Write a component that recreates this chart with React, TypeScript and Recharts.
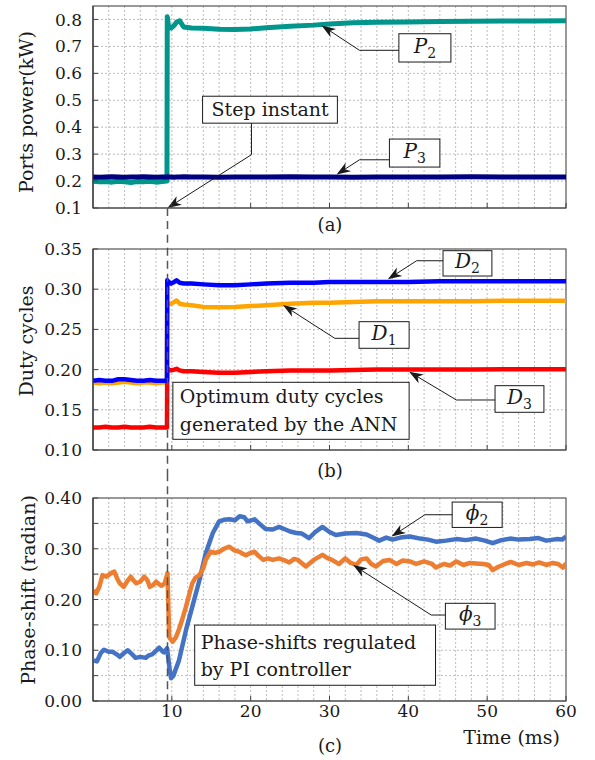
import React from "react";
import { LineChart, Line, XAxis, YAxis, CartesianGrid, ReferenceLine, ReferenceArea } from "recharts";

const FONT = "'DejaVu Serif', 'Liberation Serif', serif";
const INK = "#1a1a1a";

// shared time axis (ms)
const timeTicks = [10, 20, 30, 40, 50, 60];
const gridTimes = [2, 4, 6, 8, 10, 12, 14, 16, 18, 20, 22, 24, 26, 28, 30, 32, 34, 36, 38, 40, 42, 44, 46, 48, 50, 52, 54, 56, 58];
const stepInstant = 9.45;

// time grid used by panels (a) and (b)
const stepTimes = [0, 0.8, 1.6, 2.4, 3.2, 4, 4.8, 5.6, 6.4, 7.2, 8, 8.8, 9.38, 9.42, 9.6, 9.9, 10.3, 10.6, 11, 11.5, 12.5, 14, 16, 18, 20, 22, 25, 28, 30, 33, 36, 40, 44, 48, 52, 56, 60];

// (a) ports power, kW
const p2Power = [0.199, 0.197, 0.198, 0.196, 0.199, 0.197, 0.195, 0.198, 0.197, 0.199, 0.196, 0.198, 0.2, 0.81, 0.77, 0.768, 0.778, 0.79, 0.795, 0.772, 0.768, 0.767, 0.764, 0.763, 0.765, 0.769, 0.775, 0.779, 0.783, 0.788, 0.79, 0.791, 0.792, 0.793, 0.794, 0.794, 0.795];
const p3Power = [0.215, 0.214, 0.215, 0.216, 0.215, 0.214, 0.215, 0.215, 0.216, 0.215, 0.214, 0.215, 0.215, 0.216, 0.215, 0.215, 0.214, 0.215, 0.215, 0.216, 0.215, 0.215, 0.214, 0.215, 0.215, 0.215, 0.216, 0.215, 0.215, 0.214, 0.215, 0.215, 0.215, 0.216, 0.215, 0.215, 0.215];
const powerTicks = [0.1, 0.2, 0.3, 0.4, 0.5, 0.6, 0.7, 0.8];

// (b) duty cycles
const d1Duty = [0.184, 0.183, 0.184, 0.183, 0.184, 0.185, 0.184, 0.183, 0.184, 0.184, 0.183, 0.184, 0.184, 0.284, 0.282, 0.282, 0.284, 0.286, 0.282, 0.281, 0.28, 0.278, 0.2775, 0.278, 0.279, 0.28, 0.282, 0.283, 0.283, 0.284, 0.285, 0.285, 0.285, 0.285, 0.2855, 0.2855, 0.2855];
const d2Duty = [0.186, 0.187, 0.186, 0.186, 0.188, 0.188, 0.187, 0.186, 0.186, 0.187, 0.186, 0.186, 0.186, 0.311, 0.309, 0.307, 0.309, 0.311, 0.308, 0.307, 0.307, 0.306, 0.305, 0.305, 0.306, 0.307, 0.308, 0.308, 0.309, 0.309, 0.309, 0.309, 0.31, 0.31, 0.31, 0.31, 0.31];
const d3Duty = [0.128, 0.128, 0.129, 0.128, 0.128, 0.129, 0.128, 0.128, 0.128, 0.129, 0.128, 0.128, 0.128, 0.202, 0.2, 0.199, 0.2, 0.201, 0.199, 0.198, 0.198, 0.197, 0.196, 0.196, 0.197, 0.198, 0.199, 0.199, 0.199, 0.1995, 0.2, 0.2, 0.2, 0.2, 0.2005, 0.2005, 0.2005];
const dutyTicks = [0.1, 0.15, 0.2, 0.25, 0.3, 0.35];

// (c) phase shifts, radian
const phi2Time = [0.1, 0.5, 1.0, 1.4, 2.0, 2.5, 3.0, 3.4, 3.9, 4.4, 4.9, 5.4, 6.0, 6.7, 7.1, 7.5, 8.0, 8.4, 8.8, 9.0, 9.4, 9.7, 9.9, 10.2, 10.9, 11.8, 12.6, 13.5, 14.3, 15.2, 16.0, 16.6, 17.3, 18.0, 18.6, 19.2, 19.6, 20.5, 21.2, 21.9, 22.8, 23.6, 24.4, 25.0, 25.8, 26.5, 27.4, 28.2, 29.1, 30.0, 30.8, 32.0, 33.4, 34.7, 35.5, 36.3, 37.2, 38.0, 39.0, 40.2, 41.5, 42.5, 43.5, 44.8, 46.1, 47.3, 48.6, 49.7, 50.7, 51.8, 52.9, 54.0, 55.4, 56.5, 57.5, 58.8, 59.5, 60];
const phi2Shift = [0.08, 0.078, 0.095, 0.101, 0.097, 0.097, 0.092, 0.087, 0.094, 0.1, 0.093, 0.085, 0.087, 0.085, 0.09, 0.092, 0.099, 0.105, 0.098, 0.096, 0.104, 0.065, 0.045, 0.05, 0.08, 0.14, 0.186, 0.238, 0.291, 0.331, 0.354, 0.357, 0.358, 0.356, 0.364, 0.362, 0.354, 0.358, 0.348, 0.339, 0.338, 0.343, 0.338, 0.334, 0.331, 0.33, 0.321, 0.333, 0.343, 0.333, 0.327, 0.33, 0.331, 0.328, 0.322, 0.316, 0.322, 0.318, 0.322, 0.324, 0.32, 0.318, 0.314, 0.316, 0.319, 0.317, 0.32, 0.316, 0.311, 0.317, 0.32, 0.318, 0.319, 0.321, 0.316, 0.319, 0.318, 0.324];
const phi3Time = [0.1, 0.4, 0.8, 1.2, 1.7, 2.3, 2.7, 3.1, 3.4, 3.9, 4.3, 4.8, 5.1, 5.5, 6.0, 6.5, 6.9, 7.2, 7.6, 8.0, 8.4, 8.7, 9.1, 9.45, 9.66, 10.1, 10.5, 10.9, 11.3, 11.8, 12.2, 12.6, 13.0, 13.5, 14.0, 14.3, 14.9, 15.5, 16.0, 16.6, 17.3, 17.9, 18.6, 19.0, 19.4, 20.0, 20.5, 21.0, 21.6, 22.2, 22.8, 23.6, 24.3, 24.9, 25.5, 26.0, 27.0, 28.0, 29.1, 29.7, 30.3, 31.2, 32.0, 32.7, 33.4, 34.0, 34.7, 35.3, 35.9, 36.8, 37.6, 38.5, 39.3, 40.2, 41.0, 42.0, 43.0, 43.5, 44.5, 45.3, 46.1, 47.0, 47.8, 48.6, 49.5, 50.2, 50.7, 51.5, 52.3, 53.0, 54.0, 55.0, 55.8, 56.6, 57.5, 58.3, 59.0, 59.6, 60];
const phi3Shift = [0.219, 0.212, 0.225, 0.248, 0.245, 0.252, 0.255, 0.24, 0.232, 0.225, 0.235, 0.245, 0.238, 0.232, 0.235, 0.245, 0.238, 0.225, 0.228, 0.235, 0.23, 0.227, 0.232, 0.252, 0.126, 0.117, 0.125, 0.141, 0.16, 0.186, 0.21, 0.232, 0.243, 0.248, 0.262, 0.278, 0.294, 0.292, 0.294, 0.3, 0.304, 0.297, 0.294, 0.29, 0.287, 0.292, 0.294, 0.286, 0.278, 0.281, 0.278, 0.281, 0.277, 0.273, 0.28, 0.278, 0.265, 0.278, 0.288, 0.282, 0.278, 0.27, 0.281, 0.272, 0.268, 0.279, 0.281, 0.27, 0.265, 0.276, 0.278, 0.27, 0.277, 0.275, 0.27, 0.275, 0.27, 0.263, 0.27, 0.267, 0.275, 0.268, 0.272, 0.271, 0.27, 0.268, 0.258, 0.265, 0.27, 0.274, 0.268, 0.272, 0.269, 0.273, 0.268, 0.272, 0.27, 0.263, 0.271];
const phaseTicks = [0, 0.05, 0.1, 0.15, 0.2, 0.25, 0.3, 0.35, 0.4];

const powerData = stepTimes.map((t, i) => ({ t, p2: p2Power[i], p3: p3Power[i] }));
const dutyData = stepTimes.map((t, i) => ({ t, d1: d1Duty[i], d2: d2Duty[i], d3: d3Duty[i] }));
const phi2Data = phi2Time.map((t, i) => ({ t, v: phi2Shift[i] }));
const phi3Data = phi3Time.map((t, i) => ({ t, v: phi3Shift[i] }));

const tickStyle = { fontFamily: FONT, fontSize: 17, fill: INK };

// arrow pointing at the second point of a ReferenceLine segment
const ArrowShape = (p: any) => {
  const { x1, y1, x2, y2 } = p;
  const a = Math.atan2(y2 - y1, x2 - x1);
  const c = Math.cos(a);
  const s = Math.sin(a);
  const L = 14, H = 5, N = 10;
  const bx = x2 - L * c, by = y2 - L * s;
  const nx = x2 - N * c, ny = y2 - N * s;
  return (
    <g>
      <line x1={x1} y1={y1} x2={nx} y2={ny} stroke={INK} strokeWidth={1} />
      <polygon points={`${x2},${y2} ${bx - H * s},${by + H * c} ${nx},${ny} ${bx + H * s},${by - H * c}`} fill={INK} />
    </g>
  );
};

const Sym = ({ base, sub }: { base: string; sub: string }) => (
  <>
    <tspan fontStyle="italic">{base}</tspan>
    <tspan fontSize={14} dy={5}>{sub}</tspan>
  </>
);

const symbolBox = (base: string, sub: string) => (p: any) => (
  <g>
    <rect x={p.x} y={p.y} width={p.width} height={p.height} fill="#fff" stroke={INK} strokeWidth={1} />
    <text x={p.x + p.width / 2} y={p.y + p.height / 2 + 5} textAnchor="middle" fontFamily={FONT} fontSize={20} fill={INK}>
      <Sym base={base} sub={sub} />
    </text>
  </g>
);

const textBox = (lines: string[], pad: number, first: number, gap: number) => (p: any) => (
  <g>
    <rect x={p.x} y={p.y} width={p.width} height={p.height} fill="#fff" stroke={INK} strokeWidth={1} />
    {lines.map((l, i) => (
      <text key={l} x={p.x + pad} y={p.y + first + i * gap} fontFamily={FONT} fontSize={19} fill={INK}>{l}</text>
    ))}
  </g>
);

const frame = (p: any) => <rect x={p.x} y={p.y} width={p.width} height={p.height} fill="none" stroke="#555" strokeWidth={1.2} />;

const leader = (x1: number, y: number, x2: number) => (
  <ReferenceLine segment={[{ x: x1, y }, { x: x2, y }]} stroke={INK} strokeWidth={1} ifOverflow="visible" />
);

const arrow = (x1: number, y1: number, x2: number, y2: number) => (
  <ReferenceLine segment={[{ x: x1, y: y1 }, { x: x2, y: y2 }]} ifOverflow="visible" shape={(p: any) => <ArrowShape {...p} />} />
);

const stepLine = (lo: number, hi: number) => (
  <ReferenceLine segment={[{ x: stepInstant, y: hi }, { x: stepInstant, y: lo }]} stroke="#555" strokeWidth={1.5} strokeDasharray="8 5" ifOverflow="visible" />
);

const xAxis = (labels: boolean, height: number) => (
  <XAxis
    type="number"
    dataKey="t"
    domain={[0, 60]}
    ticks={timeTicks}
    interval={0}
    allowDataOverflow
    height={height}
    tickSize={-5}
    tickMargin={9}
    tick={tickStyle}
    tickFormatter={(v: number) => (labels ? String(v) : "")}
    axisLine={{ stroke: "#555", strokeWidth: 1.2 }}
    tickLine={{ stroke: "#444" }}
  />
);

const yAxis = (domain: number[], ticks: number[], fmt: (v: number) => string) => (
  <YAxis
    type="number"
    domain={domain}
    ticks={ticks}
    interval={0}
    allowDataOverflow
    width={93}
    tickSize={-5}
    tickMargin={16}
    tick={tickStyle}
    tickFormatter={fmt}
    axisLine={{ stroke: "#333", strokeWidth: 1.2 }}
    tickLine={{ stroke: "#444" }}
  />
);

const grid = (values: number[]) => (
  <CartesianGrid stroke="#bdbdbd" strokeDasharray="2 2" verticalValues={gridTimes} horizontalValues={values} />
);

export default function App() {
  const margin = { right: 29, left: 0, bottom: 0 };
  return (
    <div style={{ position: "absolute", left: 0, top: 0, width: 595, height: 760, background: "#fff", fontFamily: FONT }}>
      <div style={{ position: "absolute", left: 0, top: 0 }}>
        <LineChart width={595} height={232} margin={{ ...margin, top: 6 }} data={powerData}>
          {grid([0.2, 0.3, 0.4, 0.5, 0.6, 0.7, 0.8])}
          {xAxis(false, 24)}
          {yAxis([0.1, 0.85], powerTicks, (v) => v.toFixed(1))}
          <Line dataKey="p2" stroke="#00968C" strokeWidth={5} dot={false} isAnimationActive={false} strokeLinejoin="round" />
          <Line dataKey="p3" stroke="#000080" strokeWidth={5} dot={false} isAnimationActive={false} strokeLinejoin="round" />
          {stepLine(0.0, 0.1)}
          <ReferenceArea x1={0} x2={60} y1={0.1} y2={0.85} shape={frame} />
          <ReferenceLine segment={[{ x: 20.1, y: 0.415 }, { x: 20.1, y: 0.298 }]} stroke={INK} strokeWidth={1} />
          {arrow(20.1, 0.298, stepInstant, 0.1)}
          <ReferenceArea x1={13.9} x2={31} y1={0.415} y2={0.515} shape={textBox(["Step instant"], 9, 20, 0)} />
          {leader(38.8, 0.6855, 33.8)}
          {arrow(33.8, 0.6855, 29.0, 0.778)}
          <ReferenceArea x1={38.8} x2={45.4} y1={0.642} y2={0.747} shape={symbolBox("P", "2")} />
          {leader(37.6, 0.279, 33.8)}
          {arrow(33.8, 0.279, 30.9, 0.224)}
          <ReferenceArea x1={37.6} x2={44.0} y1={0.252} y2={0.356} shape={symbolBox("P", "3")} />
        </LineChart>
      </div>

      <div style={{ position: "absolute", left: 0, top: 232 }}>
        <LineChart width={595} height={244} margin={{ ...margin, top: 17 }} data={dutyData}>
          {grid([0.15, 0.2, 0.25, 0.3])}
          {xAxis(false, 26)}
          {yAxis([0.1, 0.35], dutyTicks, (v) => v.toFixed(2))}
          <Line dataKey="d1" stroke="#FFA500" strokeWidth={4.5} dot={false} isAnimationActive={false} strokeLinejoin="round" />
          <Line dataKey="d3" stroke="#FF0000" strokeWidth={4.5} dot={false} isAnimationActive={false} strokeLinejoin="round" />
          <Line dataKey="d2" stroke="#0000FF" strokeWidth={4.5} dot={false} isAnimationActive={false} strokeLinejoin="round" />
          {stepLine(0.0, 0.4)}
          <ReferenceArea x1={0} x2={60} y1={0.1} y2={0.35} shape={frame} />
          {leader(44.4, 0.3354, 41.05)}
          {arrow(41.05, 0.3354, 37.4, 0.3123)}
          <ReferenceArea x1={44.4} x2={50.6} y1={0.3164} y2={0.3479} shape={symbolBox("D", "2")} />
          {leader(33.75, 0.2389, 30.67)}
          {arrow(30.67, 0.2389, 24.1, 0.2803)}
          <ReferenceArea x1={33.75} x2={40.1} y1={0.2265} y2={0.2596} shape={symbolBox("D", "1")} />
          {leader(51.0, 0.1622, 46.1)}
          {arrow(46.1, 0.1622, 40.1, 0.1974)}
          <ReferenceArea x1={51.0} x2={57.2} y1={0.1469} y2={0.18} shape={symbolBox("D", "3")} />
          <ReferenceArea x1={10.13} x2={40.1} y1={0.1133} y2={0.1842} shape={textBox(["Optimum duty cycles", "generated by the ANN"], 7, 21, 28)} />
        </LineChart>
      </div>

      <div style={{ position: "absolute", left: 0, top: 476 }}>
        <LineChart width={595} height={284} margin={{ ...margin, top: 22 }}>
          {grid([0.05, 0.1, 0.15, 0.2, 0.25, 0.3, 0.35])}
          {xAxis(true, 59)}
          {yAxis([0, 0.4], phaseTicks, (v) => (Math.round(v * 100) % 10 === 0 ? v.toFixed(2) : ""))}
          <Line data={phi2Data} dataKey="v" stroke="#4472C4" strokeWidth={4.5} dot={false} isAnimationActive={false} strokeLinejoin="round" />
          <Line data={phi3Data} dataKey="v" stroke="#ED7D31" strokeWidth={4.5} dot={false} isAnimationActive={false} strokeLinejoin="round" />
          {stepLine(0.0, 0.5)}
          <ReferenceArea x1={0} x2={60} y1={0} y2={0.4} shape={frame} />
          {leader(45.56, 0.367, 42.1)}
          {arrow(42.1, 0.367, 37.87, 0.324)}
          <ReferenceArea x1={45.56} x2={51.9} y1={0.342} y2={0.392} shape={symbolBox("\u03d5", "2")} />
          {leader(44.7, 0.1694, 42.9)}
          {arrow(42.9, 0.1694, 33.0, 0.268)}
          <ReferenceArea x1={44.7} x2={51.0} y1={0.1417} y2={0.1925} shape={symbolBox("\u03d5", "3")} />
          <ReferenceArea x1={12.9} x2={43.45} y1={0.031} y2={0.1496} shape={textBox(["Phase-shifts regulated", "by PI controller"], 6, 24, 27)} />
        </LineChart>
      </div>

      <svg width={595} height={760} style={{ position: "absolute", left: 0, top: 0, pointerEvents: "none" }} fontFamily={FONT} fill={INK}>
        <text transform="translate(33,112) rotate(-90)" textAnchor="middle" fontSize={19}>Ports power(kW)</text>
        <text transform="translate(33,341) rotate(-90)" textAnchor="middle" fontSize={19}>Duty cycles</text>
        <text transform="translate(35,590) rotate(-90)" textAnchor="middle" fontSize={19}>Phase-shift (radian)</text>
        <text x={330} y={231} textAnchor="middle" fontSize={18}>(a)</text>
        <text x={330} y={477} textAnchor="middle" fontSize={18}>(b)</text>
        <text x={330} y={752} textAnchor="middle" fontSize={18}>(c)</text>
        <text x={560} y={744} textAnchor="end" fontSize={19}>Time (ms)</text>
      </svg>
    </div>
  );
}
